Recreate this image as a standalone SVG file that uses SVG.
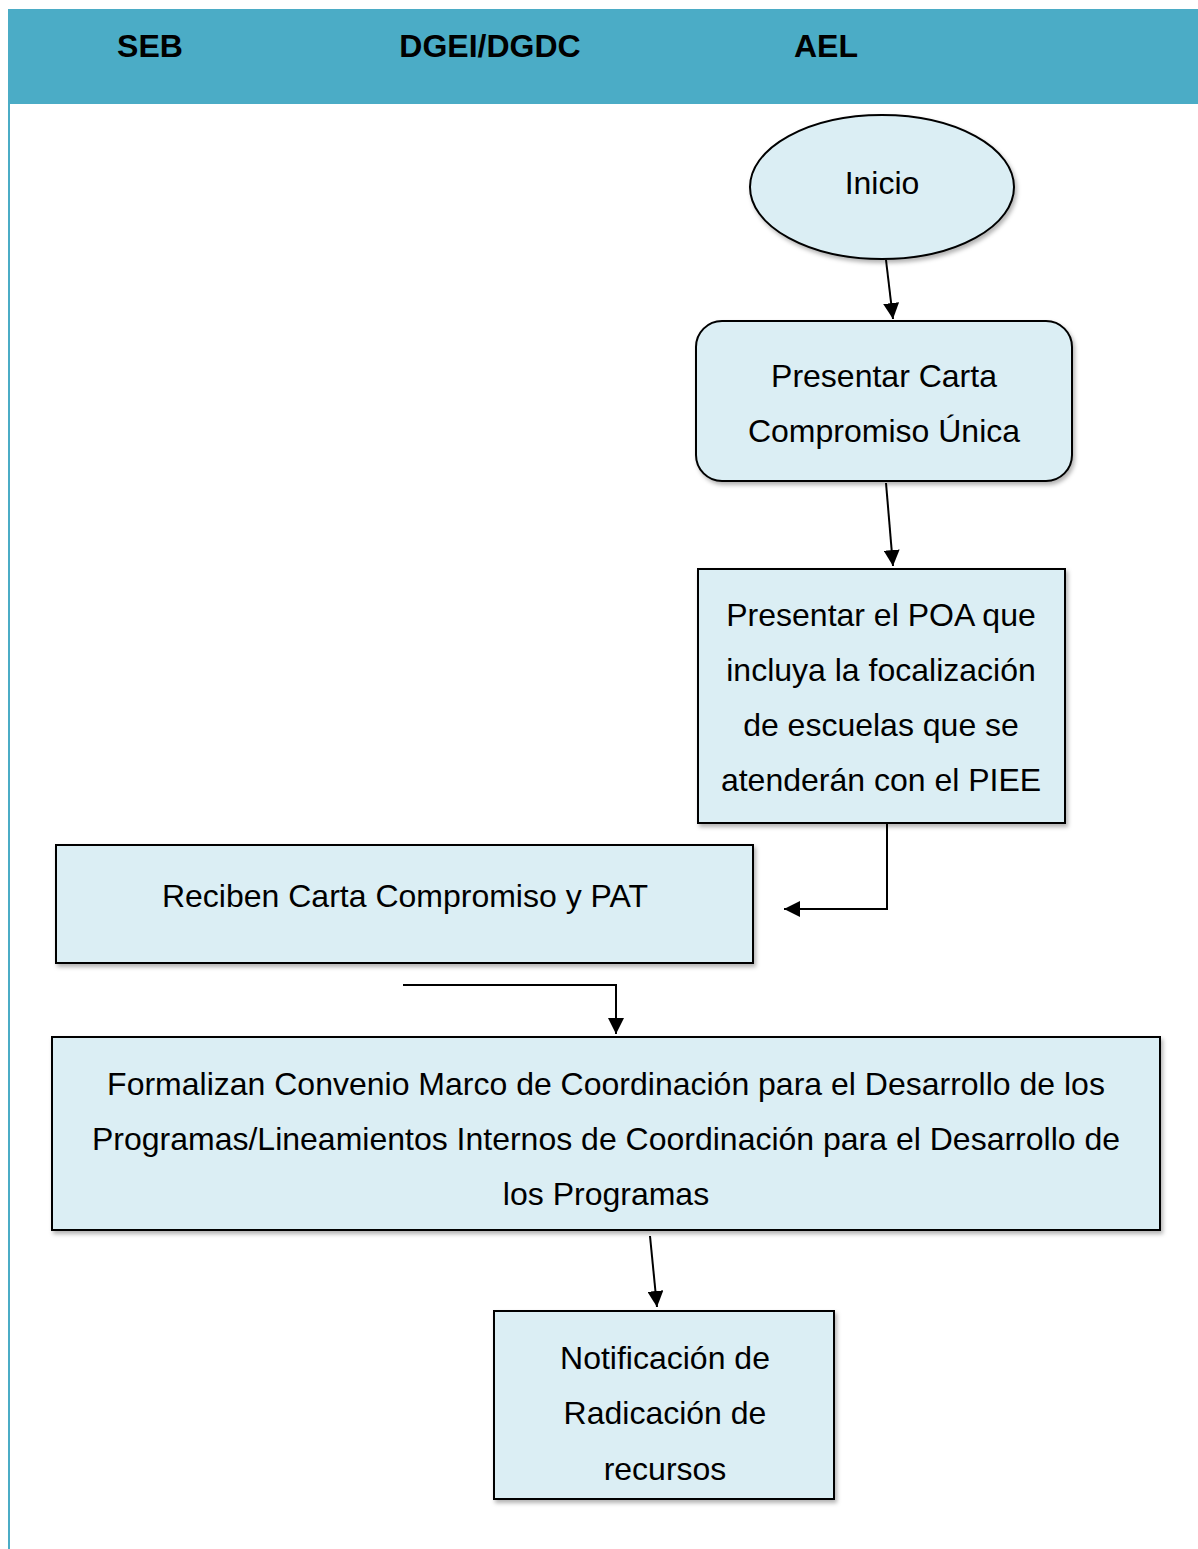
<svg xmlns="http://www.w3.org/2000/svg" width="1198" height="1549" viewBox="0 0 1198 1549">
<style>
.n{fill:#DBEEF4;stroke:#000;stroke-width:2;filter:url(#sh)}
.t{font-family:"Liberation Sans",Arial,sans-serif;font-size:32px;fill:#000;text-anchor:middle}
.h{font-family:"Liberation Sans",Arial,sans-serif;font-size:32px;font-weight:bold;fill:#000;text-anchor:middle}
.c{fill:none;stroke:#000;stroke-width:2}
</style>
<defs>
<filter id="sh" x="-5%" y="-5%" width="110%" height="115%">
<feDropShadow dx="2" dy="3" stdDeviation="2" flood-color="#000" flood-opacity="0.3"/>
</filter>
<marker id="a" viewBox="0 0 16 16" refX="16" refY="8" markerWidth="16" markerHeight="16" markerUnits="userSpaceOnUse" orient="auto">
<path d="M0,0 L16,8 L0,16 z" fill="#000"/>
</marker>
</defs>
<rect width="1198" height="1549" fill="#fff"/>
<g id="header">
<rect x="8" y="9" width="1190" height="95" fill="#4BACC6"/>
<line x1="9" y1="104" x2="9" y2="1549" stroke="#4BACC6" stroke-width="2"/>
<text class="h" x="150" y="57">SEB</text>
<text class="h" x="490" y="57">DGEI/DGDC</text>
<text class="h" x="826" y="57">AEL</text>
</g>
<g id="inicio">
<ellipse class="n" cx="882" cy="187" rx="132" ry="72"/>
<text class="t" x="882" y="194">Inicio</text>
</g>
<g id="carta">
<rect class="n" x="696" y="321" width="376" height="160" rx="26"/>
<text class="t" x="884" y="387">Presentar Carta</text>
<text class="t" x="884" y="442">Compromiso Única</text>
</g>
<g id="poa">
<rect class="n" x="698" y="569" width="367" height="254"/>
<text class="t" x="881" y="626">Presentar el POA que</text>
<text class="t" x="881" y="681">incluya la focalización</text>
<text class="t" x="881" y="736">de escuelas que se</text>
<text class="t" x="881" y="791">atenderán con el PIEE</text>
</g>
<g id="reciben">
<rect class="n" x="56" y="845" width="697" height="118"/>
<text class="t" x="405" y="907">Reciben Carta Compromiso y PAT</text>
</g>
<g id="formalizan">
<rect class="n" x="52" y="1037" width="1108" height="193"/>
<text class="t" x="606" y="1095">Formalizan Convenio Marco de Coordinación para el Desarrollo de los</text>
<text class="t" x="606" y="1150">Programas/Lineamientos Internos de Coordinación para el Desarrollo de</text>
<text class="t" x="606" y="1205">los Programas</text>
</g>
<g id="notificacion">
<rect class="n" x="494" y="1311" width="340" height="188"/>
<text class="t" x="665" y="1369">Notificación de</text>
<text class="t" x="665" y="1424">Radicación de</text>
<text class="t" x="665" y="1480">recursos</text>
</g>
<g id="connectors">
<line class="c" x1="886" y1="260" x2="893" y2="319" marker-end="url(#a)"/>
<line class="c" x1="886" y1="483" x2="893" y2="566" marker-end="url(#a)"/>
<polyline class="c" points="887,823 887,909 784,909" marker-end="url(#a)"/>
<polyline class="c" points="403,985 616,985 616,1034" marker-end="url(#a)"/>
<line class="c" x1="650" y1="1236" x2="657" y2="1307" marker-end="url(#a)"/>
</g>
</svg>
